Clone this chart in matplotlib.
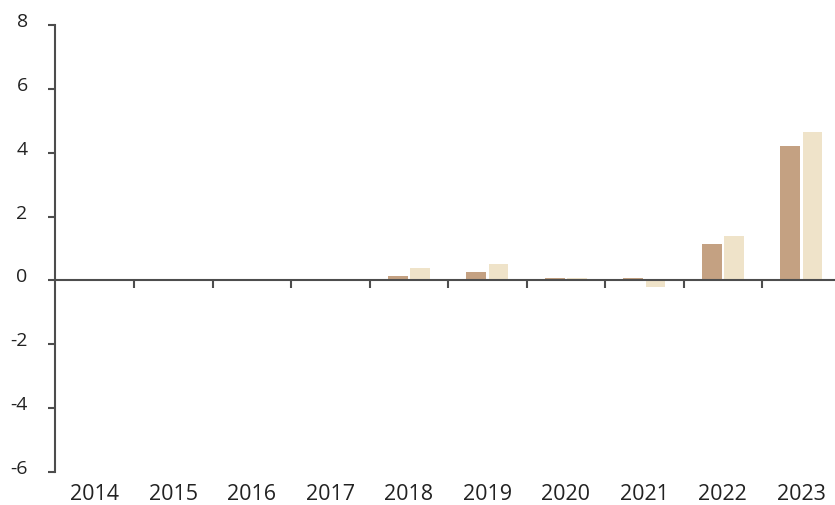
import matplotlib
matplotlib.use("Agg")
import matplotlib.pyplot as plt
import matplotlib.transforms as mtransforms
import numpy as np

plt.rcParams['font.family'] = ['Open Sans', 'DejaVu Sans']

years = ["2014", "2015", "2016", "2017", "2018", "2019", "2020", "2021", "2022", "2023"]
series_a = [0, 0, 0, 0, 0.14, 0.27, 0.09, 0.09, 1.14, 4.2]
series_b = [0, 0, 0, 0, 0.39, 0.51, 0.09, -0.2, 1.39, 4.65]
yticks = [-6, -4, -2, 0, 2, 4, 6, 8]

color_a = "#c4a182"
color_b = "#efe3c9"
axis_color = "#4d4d4d"

fig = plt.figure(figsize=(8.35, 5.06), dpi=100)
ax = fig.add_axes([55.5 / 835, 1 - 473 / 506, 785 / 835, 447 / 506])

x = np.arange(len(years))
w = 0.25
ax.bar(x - 0.14, series_a, width=w, color=color_a, zorder=2)
ax.bar(x + 0.145, series_b, width=w, color=color_b, zorder=2)

ax.set_xlim(-0.5, len(years) - 0.5)
ax.set_ylim(-6, 8)
ax.set_yticks(yticks)
ax.set_yticklabels([str(v) for v in yticks], fontsize=14, color="#222222")
ax.tick_params(axis='y', direction='out', length=5, width=1.5, color=axis_color, pad=15)
offset = mtransforms.ScaledTranslation(0, 6 / 100, fig.dpi_scale_trans)
for lbl in ax.get_yticklabels():
    lbl.set_transform(lbl.get_transform() + offset)

for s in ["top", "right"]:
    ax.spines[s].set_visible(False)
ax.spines["left"].set_color(axis_color)
ax.spines["left"].set_linewidth(1.5)
ax.spines["bottom"].set_position(("data", 0))
ax.spines["bottom"].set_color(axis_color)
ax.spines["bottom"].set_linewidth(1.5)
ax.spines["bottom"].set_zorder(3)

ax.set_xticks(np.arange(0.5, len(years) - 0.5, 1.0))
ax.set_xticklabels([])
ax.tick_params(axis='x', direction='out', length=6, width=1.5, color=axis_color)

trans = mtransforms.blended_transform_factory(ax.transData, ax.transAxes)
for xi, lab in zip(x, years):
    ax.text(xi, -0.047, lab, transform=trans, ha='center', va='center',
            fontsize=15.5, color="#222222")

fig.savefig("out.png", dpi=100)
